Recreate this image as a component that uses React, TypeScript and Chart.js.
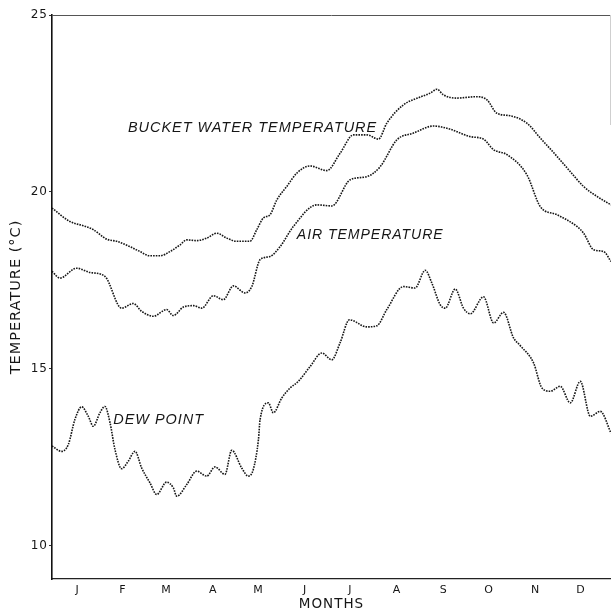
import React, { useEffect, useRef } from "react";
import { Chart, registerables } from "chart.js";

Chart.register(...registerables);

// Month initials placed at mid-month (day of year)
const MONTHS = ["J", "F", "M", "A", "M", "J", "J", "A", "S", "O", "N", "D"];
const MID_MONTH_DAYS = [15, 45, 74, 105, 135, 166, 196, 227, 258, 288, 319, 349];
const TEMP_TICKS = [10, 15, 20, 25];

// [day of year, °C]
const bucketWater: [number, number][] = [
  [-2, 19.54], [9.9, 19.16], [18.7, 19.04], [25.4, 18.93], [34.3, 18.66], [40.9, 18.6],
  [49.7, 18.45], [56.4, 18.31], [63, 18.19], [69.7, 18.19], [76.3, 18.31], [83, 18.5],
  [87.4, 18.64], [94, 18.62], [100.7, 18.69], [107.3, 18.83], [114, 18.69], [120.6, 18.6],
  [129.4, 18.6], [133.9, 18.93], [138.3, 19.26], [142.7, 19.35], [147.2, 19.77], [153.8, 20.15],
  [160.5, 20.53], [169.3, 20.73], [180.4, 20.6], [189.2, 21.09], [198.1, 21.61], [207, 21.61],
  [214.7, 21.49], [220.2, 21.94], [231.3, 22.46], [242.4, 22.68], [249, 22.79], [253.5, 22.9],
  [257.8, 22.74], [266.7, 22.65], [280, 22.69], [286.7, 22.6], [293.3, 22.22], [302.1, 22.15],
  [313.2, 21.94], [322.1, 21.52], [333.2, 21.0], [342, 20.57], [350.8, 20.15], [359.7, 19.87],
  [369, 19.63],
];

const airTemp: [number, number][] = [
  [-2, 17.75], [3.3, 17.56], [14.3, 17.84], [23.2, 17.72], [33.1, 17.61], [44.2, 16.71],
  [51.9, 16.84], [57.5, 16.62], [65.2, 16.48], [74.1, 16.67], [78.5, 16.5], [85.2, 16.74],
  [91.8, 16.78], [97.4, 16.71], [105.1, 17.06], [111.7, 16.95], [118.4, 17.34], [126.1, 17.14],
  [130.6, 17.32], [136.1, 18.08], [142.7, 18.17], [149.4, 18.45], [158.2, 19.02], [173.8, 19.63],
  [183.7, 19.6], [195.9, 20.34], [207, 20.43], [215.8, 20.71], [226.9, 21.47], [237.9, 21.66],
  [251.2, 21.86], [262.3, 21.77], [275.6, 21.56], [284.4, 21.49], [291.1, 21.19], [300, 21.05],
  [313.2, 20.48], [322.1, 19.58], [333.2, 19.35], [346.4, 19.02], [350.8, 18.83], [357.5, 18.36],
  [364.1, 18.31], [369, 18.03],
];

const dewPoint: [number, number][] = [
  [-2, 12.81], [4.4, 12.66], [8.8, 12.85], [13.2, 13.56], [17.7, 13.92], [22.1, 13.65],
  [25.4, 13.37], [29.8, 13.75], [33.1, 13.93], [36.5, 13.47], [39.8, 12.71], [44.2, 12.17],
  [48.6, 12.38], [53.1, 12.66], [57.5, 12.19], [63, 11.77], [67.5, 11.44], [74.1, 11.79],
  [78.5, 11.63], [80.8, 11.39], [87.4, 11.72], [94, 12.1], [100.7, 11.96], [106.2, 12.22],
  [112.8, 12.01], [117.3, 12.69], [123.9, 12.19], [128.3, 11.96], [131.6, 12.15], [135, 12.99],
  [136.1, 13.56], [141.6, 14.03], [144.9, 13.75], [150.5, 14.17], [156, 14.45], [161.5, 14.64],
  [169.3, 15.06], [177.1, 15.44], [183.7, 15.25], [189.2, 15.73], [195.4, 16.38], [207, 16.18],
  [213.6, 16.21], [220.2, 16.67], [231.3, 17.32], [239, 17.28], [245.7, 17.78], [250.1, 17.42],
  [255.6, 16.81], [259, 16.71], [265.6, 17.25], [271.1, 16.71], [275.6, 16.55], [284.4, 17.03],
  [291.1, 16.29], [297.7, 16.59], [304.3, 15.87], [308.8, 15.65], [317.6, 15.16], [323.2, 14.45],
  [328.7, 14.36], [335.3, 14.5], [342, 14.03], [348.6, 14.64], [355.3, 13.65], [361.9, 13.79],
  [369, 13.18],
];

// Curve names written beside each trace: text, start/end day, baseline °C
const seriesLabels = [
  { text: "BUCKET WATER TEMPERATURE", from: 48.4, to: 213.8, at: 21.68 },
  { text: "AIR TEMPERATURE", from: 160.5, to: 257.9, at: 18.66 },
  { text: "DEW POINT", from: 38.7, to: 98.9, at: 13.42 },
];

const INK = "#161616";

const toPoints = (rows: [number, number][]) => rows.map(([x, y]) => ({ x, y }));

// Lettering is drawn with a little extra tracking throughout
const trackingPlugin = {
  id: "tracking",
  beforeDraw(chart: any) {
    chart.ctx.letterSpacing = "1px";
  },
};

const framePlugin = {
  id: "frameAndNames",
  afterDraw(chart: any) {
    const { ctx, chartArea, scales } = chart;
    const { left, right, top } = chartArea;
    ctx.save();
    // top edge of the frame
    ctx.strokeStyle = "#555";
    ctx.lineWidth = 1;
    ctx.beginPath();
    ctx.moveTo(left, top + 0.5);
    ctx.lineTo(right, top + 0.5);
    ctx.stroke();
    // faint right edge
    ctx.strokeStyle = "#cfcfcf";
    ctx.beginPath();
    ctx.moveTo(right - 0.5, top);
    ctx.lineTo(right - 0.5, top + 110);
    ctx.stroke();

    // italic curve names
    ctx.fillStyle = INK;
    ctx.font = 'italic 15px "Liberation Sans"';
    ctx.textBaseline = "alphabetic";
    ctx.textAlign = "left";
    for (const lbl of seriesLabels) {
      const x1 = scales.x.getPixelForValue(lbl.from);
      const x2 = scales.x.getPixelForValue(lbl.to);
      const y = scales.y.getPixelForValue(lbl.at);
      const w = ctx.measureText(lbl.text).width;
      ctx.save();
      ctx.translate(x1, y);
      ctx.scale((x2 - x1) / w, 1);
      ctx.fillText(lbl.text, 0, 0);
      ctx.restore();
    }
    ctx.restore();
  },
};

export default function App() {
  const canvasRef = useRef<HTMLCanvasElement>(null);

  useEffect(() => {
    document.body.style.margin = "0";
    const canvas = canvasRef.current;
    if (!canvas) return;

    const traceStyle = {
      borderColor: INK,
      borderWidth: 1.6,
      borderDash: [1.6, 1.1],
      pointRadius: 0,
      fill: false,
      cubicInterpolationMode: "monotone" as const,
    };

    const chart = new Chart(canvas, {
      type: "line",
      data: {
        datasets: [
          { label: "Bucket water temperature", data: toPoints(bucketWater), ...traceStyle },
          { label: "Air temperature", data: toPoints(airTemp), ...traceStyle },
          { label: "Dew point", data: toPoints(dewPoint), ...traceStyle },
        ],
      },
      options: {
        animation: false,
        responsive: false,
        devicePixelRatio: 1,
        layout: { padding: { top: 15, right: 0, bottom: 0, left: 0 } },
        plugins: { legend: { display: false }, tooltip: { enabled: false } },
        scales: {
          x: {
            type: "linear",
            min: -2,
            max: 369,
            afterBuildTicks: (s: any) => {
              s.ticks = MID_MONTH_DAYS.map((v) => ({ value: v }));
            },
            afterFit: (s: any) => {
              s.height = 34;
            },
            grid: { display: true, drawOnChartArea: false, drawTicks: false },
            border: { display: true, color: "#222", width: 1.2 },
            ticks: {
              autoSkip: false,
              maxRotation: 0,
              padding: 5,
              color: INK,
              font: { family: "DejaVu Sans", size: 11 },
              callback: (_v: any, i: number) => MONTHS[i],
            },
            title: {
              display: true,
              text: "MONTHS",
              color: INK,
              font: { family: "DejaVu Sans", size: 13.5 },
              padding: { top: 0, bottom: 0 },
            },
          },
          y: {
            type: "linear",
            min: 9.05,
            max: 25,
            afterBuildTicks: (s: any) => {
              s.ticks = TEMP_TICKS.map((v) => ({ value: v }));
            },
            afterFit: (s: any) => {
              s.width = 52;
            },
            grid: { display: true, drawOnChartArea: false, drawTicks: true, tickLength: 3, color: "#333" },
            border: { display: true, color: "#111", width: 1.6 },
            ticks: {
              padding: 1,
              color: INK,
              font: { family: "DejaVu Sans", size: 12 },
              callback: (v: any) => String(v),
            },
            title: {
              display: true,
              text: "TEMPERATURE (°C)",
              color: INK,
              font: { family: "DejaVu Sans", size: 14.5 },
              padding: { top: 8, bottom: 0 },
            },
          },
        },
      },
      plugins: [trackingPlugin, framePlugin],
    });

    return () => chart.destroy();
  }, []);

  return (
    <div style={{ position: "absolute", left: 0, top: 0, width: 611, height: 613, background: "#fff" }}>
      <canvas ref={canvasRef} width={611} height={613} style={{ display: "block" }} />
    </div>
  );
}
